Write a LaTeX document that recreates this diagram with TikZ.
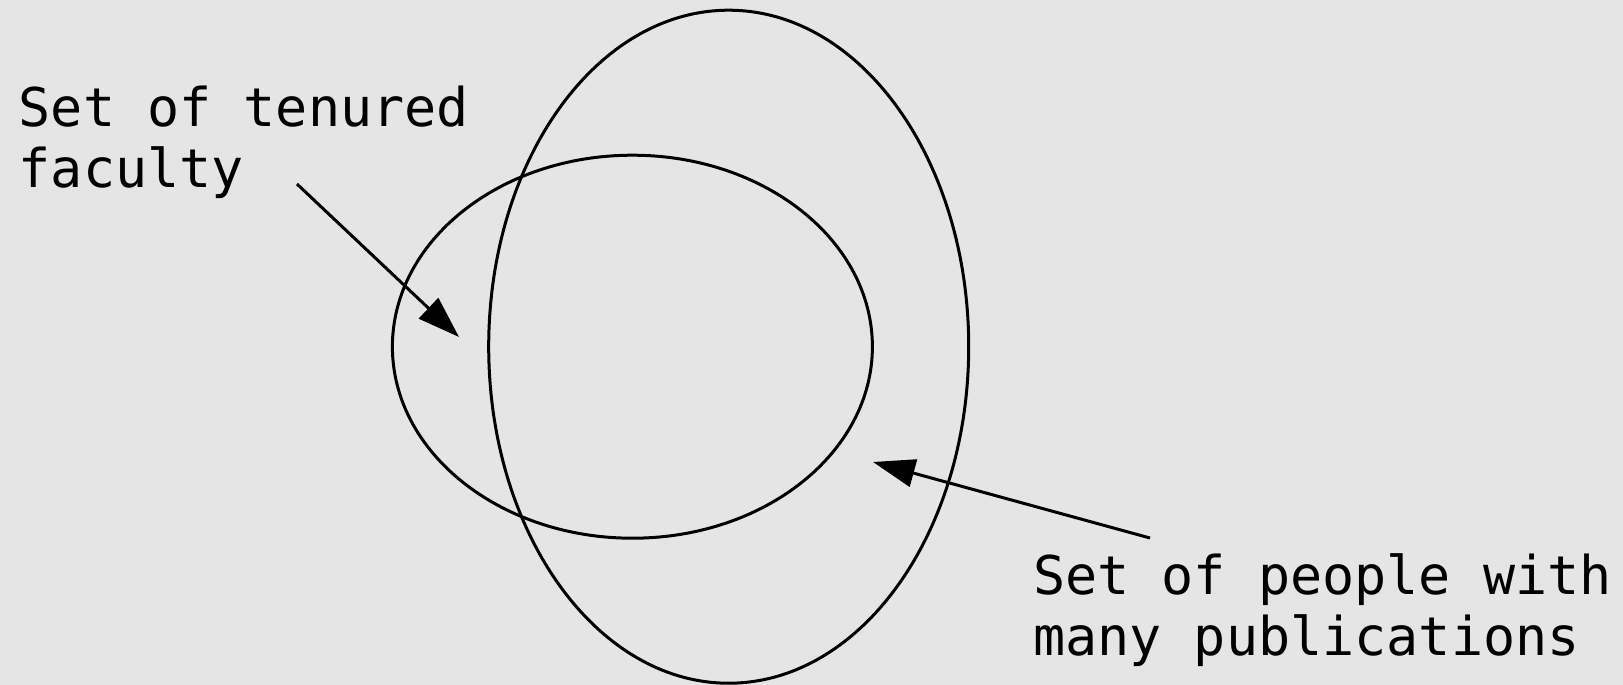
\documentclass[tikz,border=0pt]{standalone}
\usepackage{fontspec}
\setmonofont{DejaVu Sans Mono}
\usetikzlibrary{arrows.meta}
\definecolor{bgcol}{HTML}{E5E5E5}
\tikzset{
  setline/.style={draw=black, line width=3pt},
  pointer/.style={draw=black, line width=3pt, -{Triangle[length=42pt,width=28pt]}},
  lbl/.style={font=\fontsize{53.4pt}{61pt}\selectfont\ttfamily, align=left, inner sep=0pt, anchor=north west}
}
\begin{document}
\begin{tikzpicture}[x=1pt,y=-1pt]
\fill[bgcol] (0,0) rectangle (1623,685);
\useasboundingbox (0,0) rectangle (1623,685);
% sets
\draw[setline] (728.7,346.7) ellipse [x radius=240, y radius=336.5];
\draw[setline] (632.4,346.7) ellipse [x radius=240, y radius=191.5];
% labels
\node[lbl] (tenured) at (18.6,86) {Set of tenured\\faculty};
\node[lbl] (pubs) at (1033,553) {Set of people with\\many publications};
% arrows
\coordinate (t1) at (297,184);
\coordinate (t2) at (459,337);
\coordinate (p1) at (1150,538);
\coordinate (p2) at (873,462);
\draw[pointer] (t1) -- (t2);
\draw[pointer] (p1) -- (p2);
\end{tikzpicture}
\end{document}
